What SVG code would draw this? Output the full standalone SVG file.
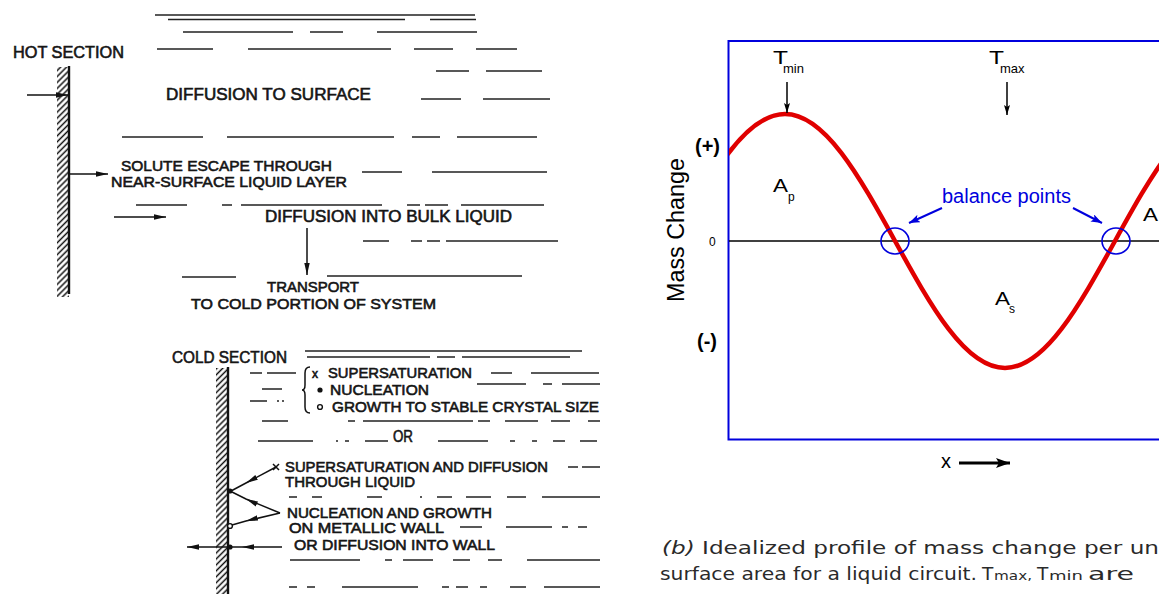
<svg xmlns="http://www.w3.org/2000/svg" width="1159" height="594" viewBox="0 0 1159 594">
<style>
.lt{font-family:"Liberation Sans",Arial,sans-serif;font-size:16.5px;fill:#151515;stroke:#151515;stroke-width:0.6}
.st{font-size:15px}
.rt{font-family:"Liberation Sans",Arial,sans-serif;fill:#000}
.dash{fill:none;stroke:#222;stroke-width:1.6}
.wall{stroke:#111;stroke-width:2.4}
.ln{fill:none;stroke:#111;stroke-width:1.5}
.cap{font-family:"DejaVu Sans","Open Sans",sans-serif;font-size:18.5px;fill:#2a2a2a}
.sm{font-size:13px}
</style>
<defs>
<pattern id="hatch" width="4.2" height="4.2" patternUnits="userSpaceOnUse" patternTransform="rotate(45)">
<line x1="2.1" y1="0" x2="2.1" y2="4.2" stroke="#111" stroke-width="1.5"/>
</pattern>
<marker id="ab" viewBox="0 0 12 6" refX="12" refY="3" markerWidth="12" markerHeight="6" markerUnits="userSpaceOnUse" orient="auto"><path d="M0,0.3 L12,3 L0,5.7 z" fill="#111"/></marker>
<marker id="ak" viewBox="0 0 10 6" refX="10" refY="3" markerWidth="10" markerHeight="6" markerUnits="userSpaceOnUse" orient="auto"><path d="M0,0 L10,3 L0,6 L2,3 z" fill="#000"/></marker>
<marker id="abl" viewBox="0 0 11 8" refX="11" refY="4" markerWidth="11" markerHeight="8" markerUnits="userSpaceOnUse" orient="auto"><path d="M0,0 L11,4 L0,8 L2.5,4 z" fill="#0000dd"/></marker>
<marker id="ax" viewBox="0 0 14 10" refX="14" refY="5" markerWidth="14" markerHeight="10" markerUnits="userSpaceOnUse" orient="auto"><path d="M0,0 L14,5 L0,10 L3,5 z" fill="#000"/></marker>
<clipPath id="plot"><rect x="729" y="41" width="440" height="398"/></clipPath>
</defs>
<rect width="1159" height="594" fill="#fff"/>

<g id="liquid-lines">
<path class="dash" stroke-width="2.2" d="M155,15H475"/>
<path class="dash" d="M168,19.5H405M430,19.5H476M183,32H293M310,32H343M377,32H477M157,49H213M248,49H391M414,49H453M476,49H517M436,71H469M486,71H542M421,99H461M483,99H550M122,137H203M227,137H394M412,137H440M457,137H537M362,172H402M432,172H547M136,205H187M222,205H232M241,205H382M407,205H420M425,205H448M461,205H544M363,241H389M411,241H422M427,241H440M446,241H558M182,277H236M327,276H522"/>
<path class="dash" stroke-width="2" d="M305,351H582"/>
<path class="dash" d="M307,357H430M437,357H455M462,357H570M250,373H262M267,373H296M491,373H512M531,373H599M262,389H282M477,384H526M543,384H552M562,384H600M250,401H267M277,401H279M282,401H284M262,421H288M348,421H355M363,421H473M478,421H490M505,421H538M551,421H570M588,421H600M258,441H313M336,441H338M345,441H349M365,441H388M438,441H488M510,441H515M532,441H537M553,441H565M580,441H597M568,467H578M582,467H600M289,497H297M312,497H322M367,497H382M420,497H422M437,497H452M466,497H491M507,497H526M542,497H600M460,527H482M506,527H552M562,527H568M578,527H587M290,560H360M385,560H392M403,560H433M453,560H470M488,560H502M527,560H600M289,587H297M307,587H315M342,587H418M442,587H449M456,587H468M480,587H487M510,587H526M544,587H600"/>
</g>

<g id="hot-wall">
<rect x="57" y="67" width="12" height="230" fill="url(#hatch)"/>
<line class="wall" x1="69" y1="66" x2="69" y2="294"/>
</g>
<g id="cold-wall">
<rect x="216" y="368" width="12" height="226" fill="url(#hatch)"/>
<line class="wall" x1="228" y1="367" x2="228" y2="594"/>
</g>

<g id="hot-section"><text class="lt" x="13" y="58" textLength="111" lengthAdjust="spacingAndGlyphs">HOT SECTION</text></g>
<g id="diffusion-to-surface"><text class="lt" x="166" y="100" textLength="205" lengthAdjust="spacingAndGlyphs">DIFFUSION TO SURFACE</text></g>
<g id="solute-escape">
<text class="lt st" x="121" y="171" textLength="211" lengthAdjust="spacingAndGlyphs">SOLUTE ESCAPE THROUGH</text>
<text class="lt st" x="111" y="187" textLength="236" lengthAdjust="spacingAndGlyphs">NEAR-SURFACE LIQUID LAYER</text>
</g>
<g id="diffusion-bulk"><text class="lt" x="265" y="222" textLength="247" lengthAdjust="spacingAndGlyphs">DIFFUSION INTO BULK LIQUID</text></g>
<g id="transport">
<text class="lt st" x="267" y="292" textLength="92" lengthAdjust="spacingAndGlyphs">TRANSPORT</text>
<text class="lt st" x="191" y="309" textLength="245" lengthAdjust="spacingAndGlyphs">TO COLD PORTION OF SYSTEM</text>
</g>
<g id="cold-section"><text class="lt" x="172" y="363" textLength="115" lengthAdjust="spacingAndGlyphs">COLD SECTION</text></g>
<g id="process-list">
<path class="ln" d="M310,367 Q305,367 305,373 L305,385 Q305,390 302,390 Q305,390 305,395 L305,407 Q305,413 310,413"/>
<text class="lt" x="312" y="378" style="font-size:12px">x</text>
<text class="lt st" x="328" y="378" textLength="144" lengthAdjust="spacingAndGlyphs">SUPERSATURATION</text>
<circle cx="320" cy="390" r="2.6" fill="#111"/>
<text class="lt st" x="330" y="395" textLength="99" lengthAdjust="spacingAndGlyphs">NUCLEATION</text>
<circle cx="320" cy="407" r="2.4" fill="none" stroke="#111" stroke-width="1.4"/>
<text class="lt st" x="332" y="412" textLength="267" lengthAdjust="spacingAndGlyphs">GROWTH TO STABLE CRYSTAL SIZE</text>
</g>
<g id="or"><text class="lt" x="393" y="442" textLength="20" lengthAdjust="spacingAndGlyphs">OR</text></g>
<g id="supersaturation-diffusion">
<text class="lt st" x="285" y="472" textLength="263" lengthAdjust="spacingAndGlyphs">SUPERSATURATION AND DIFFUSION</text>
<text class="lt st" x="285" y="487" textLength="130" lengthAdjust="spacingAndGlyphs">THROUGH LIQUID</text>
</g>
<g id="nucleation-growth">
<text class="lt st" x="287" y="518" textLength="205" lengthAdjust="spacingAndGlyphs">NUCLEATION AND GROWTH</text>
<text class="lt st" x="289" y="533" textLength="155" lengthAdjust="spacingAndGlyphs">ON METALLIC WALL</text>
<text class="lt st" x="294" y="550" textLength="201" lengthAdjust="spacingAndGlyphs">OR DIFFUSION INTO WALL</text>
</g>
<g id="wall-points">
<circle cx="230" cy="491" r="2.6" fill="#111"/>
<circle cx="230" cy="526" r="2.4" fill="#fff" stroke="#111" stroke-width="1.4"/>
<circle cx="230" cy="547" r="2.6" fill="#111"/>
<path class="ln" d="M273,464 L279,470 M279,464 L273,470"/>
</g>

<g id="plot-frame">
<path d="M1159,41 H728.5 V439.5 H1159" fill="none" stroke="#0000dd" stroke-width="2"/>
<line x1="729" y1="241" x2="1159" y2="241" stroke="#000" stroke-width="1.5"/>
</g>
<g id="mass-curve">
<path clip-path="url(#plot)" d="M675,241 C710.9,175.9 745.2,114 785,114 C824.8,114 859.1,175.9 895,241 C930.9,306.1 965.2,368 1005,368 C1044.8,368 1079.1,306.1 1115,241 C1150.9,175.9 1185.2,114 1225,114" fill="none" stroke="#e00000" stroke-width="4.5" stroke-linejoin="round"/>
</g>
<g id="balance-circles">
<ellipse cx="895" cy="241" rx="14" ry="13" fill="none" stroke="#0000dd" stroke-width="1.6"/>
<ellipse cx="1116" cy="241" rx="14" ry="13" fill="none" stroke="#0000dd" stroke-width="1.6"/>
</g>
<g id="axis-labels">
<text class="rt" transform="translate(684,230) rotate(-90)" text-anchor="middle" font-size="23" textLength="144" lengthAdjust="spacingAndGlyphs">Mass Change</text>
<text class="rt" x="695" y="153" font-size="20" font-weight="bold">(+)</text>
<text class="rt" x="697" y="348" font-size="20" font-weight="bold">(-)</text>
<text class="rt" x="709" y="246" font-size="12">0</text>
<text class="rt" x="941" y="468" font-size="20">x</text>
</g>
<g id="t-min">
<text class="rt" x="773" y="64" font-size="18" textLength="15" lengthAdjust="spacingAndGlyphs">T</text>
<text class="rt" x="783" y="73" font-size="13">min</text>
</g>
<g id="t-max">
<text class="rt" x="989" y="64" font-size="18" textLength="15" lengthAdjust="spacingAndGlyphs">T</text>
<text class="rt" x="1000" y="73" font-size="13">max</text>
</g>
<g id="area-labels">
<text class="rt" x="773" y="192" font-size="18" textLength="15" lengthAdjust="spacingAndGlyphs">A</text>
<text class="rt" x="788" y="201" font-size="12">p</text>
<text class="rt" x="995" y="305" font-size="18" textLength="15" lengthAdjust="spacingAndGlyphs">A</text>
<text class="rt" x="1009" y="313" font-size="12">s</text>
<text class="rt" x="1143" y="221" font-size="18" textLength="15" lengthAdjust="spacingAndGlyphs">A</text>
</g>
<g id="balance-points"><text class="rt" x="942" y="203" font-size="20" style="fill:#0000dd" textLength="129" lengthAdjust="spacingAndGlyphs">balance points</text></g>
<g id="caption">
<text class="cap" x="662" y="554" textLength="497" lengthAdjust="spacingAndGlyphs"><tspan font-style="italic">(b)</tspan> Idealized profile of mass change per un</text>
<text class="cap" x="660" y="580" textLength="317" lengthAdjust="spacingAndGlyphs">surface area for a liquid circuit.</text>
<text class="cap" x="982" y="580">T</text>
<text class="cap sm" x="994" y="580" textLength="38" lengthAdjust="spacingAndGlyphs">max,</text>
<text class="cap" x="1037" y="580">T</text>
<text class="cap sm" x="1049" y="580" textLength="34" lengthAdjust="spacingAndGlyphs">min</text>
<text class="cap" x="1088" y="580" textLength="46" lengthAdjust="spacingAndGlyphs">are</text>
</g>

<g id="connectors">
<path class="ln" d="M27,95 H68" marker-end="url(#ab)"/>
<path class="ln" d="M70,174 H108" marker-end="url(#ab)"/>
<path class="ln" d="M114,217 H166" marker-end="url(#ab)"/>
<path class="ln" d="M307,228 V275" marker-end="url(#ab)"/>
<path class="ln" d="M276,467 L246,483 L231,491" marker-mid="url(#ab)"/>
<path class="ln" d="M280,513 L246,499 L232,492" marker-mid="url(#ab)"/>
<path class="ln" d="M280,513 L246,521 L232,525" marker-mid="url(#ab)"/>
<path class="ln" d="M282,547 L242,547 L187,547" marker-mid="url(#ab)" marker-end="url(#ab)"/>
<path d="M787,82 V113" stroke="#000" stroke-width="1.5" fill="none" marker-end="url(#ak)"/>
<path d="M1007,82 V115" stroke="#000" stroke-width="1.5" fill="none" marker-end="url(#ak)"/>
<path d="M942,208 L909,223" stroke="#0000dd" stroke-width="2" fill="none" marker-end="url(#abl)"/>
<path d="M1073,208 L1102,223" stroke="#0000dd" stroke-width="2" fill="none" marker-end="url(#abl)"/>
<path d="M959,463 H1010" stroke="#000" stroke-width="3" fill="none" marker-end="url(#ax)"/>
</g>
</svg>
